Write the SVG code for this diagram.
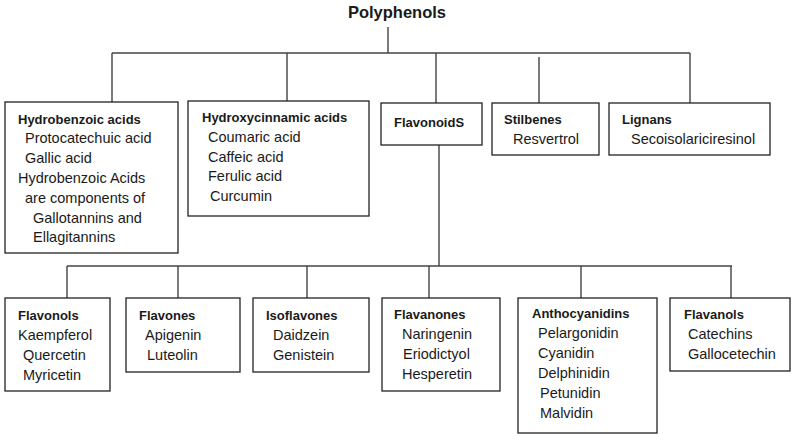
<svg xmlns="http://www.w3.org/2000/svg" width="794" height="436" viewBox="0 0 794 436">
<style>
text{font-family:"Liberation Sans",Arial,sans-serif;fill:#1a1a1a}
.t{font-size:16.5px;font-weight:bold}
.h{font-size:13px;font-weight:bold}
.r{font-size:14.5px}
.box{fill:#fff;stroke:#222;stroke-width:1.3}
.ln{fill:none;stroke:#444;stroke-width:1.4}
</style>
<rect width="794" height="436" fill="#fff"/>
<g id="connectors" class="ln">
<path d="M388 27V53M112 53H690M112 53V102M287 53V101M436 53V103M539 57V103M690 53V103"/>
<path d="M439 145V266M67 266H732M67 266V298M178 266V298M307 266V298M429 266V298M581 266V298M731 266V298"/>
</g>
<g id="title"><text class="t" x="397" y="18" text-anchor="middle">Polyphenols</text></g>
<g id="hydrobenzoic">
<rect class="box" x="5" y="102" width="173" height="151"/>
<text class="h" x="18" y="124">Hydrobenzoic acids</text>
<text class="r" x="25" y="143">Protocatechuic acid</text>
<text class="r" x="25" y="163">Gallic acid</text>
<text class="r" x="18" y="183">Hydrobenzoic Acids</text>
<text class="r" x="25" y="203">are components of</text>
<text class="r" x="33" y="223">Gallotannins and</text>
<text class="r" x="33" y="242">Ellagitannins</text>
</g>
<g id="hydroxycinnamic">
<rect class="box" x="188" y="101" width="181" height="115"/>
<text class="h" x="202" y="122">Hydroxycinnamic acids</text>
<text class="r" x="208" y="142">Coumaric acid</text>
<text class="r" x="208" y="162">Caffeic acid</text>
<text class="r" x="208" y="181">Ferulic acid</text>
<text class="r" x="210" y="201">Curcumin</text>
</g>
<g id="flavonoids">
<rect class="box" x="381" y="103" width="101" height="42"/>
<text class="h" x="394" y="127">FlavonoidS</text>
</g>
<g id="stilbenes">
<rect class="box" x="492" y="103" width="107" height="52"/>
<text class="h" x="504" y="124">Stilbenes</text>
<text class="r" x="513" y="144">Resvertrol</text>
</g>
<g id="lignans">
<rect class="box" x="609" y="103" width="161" height="52"/>
<text class="h" x="622" y="124">Lignans</text>
<text class="r" x="631" y="144">Secoisolariciresinol</text>
</g>
<g id="flavonols">
<rect class="box" x="5" y="298" width="105" height="93"/>
<text class="h" x="18" y="320">Flavonols</text>
<text class="r" x="18" y="340">Kaempferol</text>
<text class="r" x="23" y="360">Quercetin</text>
<text class="r" x="23" y="380">Myricetin</text>
</g>
<g id="flavones">
<rect class="box" x="126" y="298" width="114" height="74"/>
<text class="h" x="139" y="320">Flavones</text>
<text class="r" x="145" y="340">Apigenin</text>
<text class="r" x="147" y="360">Luteolin</text>
</g>
<g id="isoflavones">
<rect class="box" x="253" y="298" width="116" height="74"/>
<text class="h" x="266" y="320">Isoflavones</text>
<text class="r" x="273" y="340">Daidzein</text>
<text class="r" x="273" y="360">Genistein</text>
</g>
<g id="flavanones">
<rect class="box" x="382" y="298" width="118" height="93"/>
<text class="h" x="394" y="319">Flavanones</text>
<text class="r" x="402" y="339">Naringenin</text>
<text class="r" x="403" y="359">Eriodictyol</text>
<text class="r" x="402" y="379">Hesperetin</text>
</g>
<g id="anthocyanidins">
<rect class="box" x="518" y="298" width="139" height="135"/>
<text class="h" x="532" y="318">Anthocyanidins</text>
<text class="r" x="538" y="338">Pelargonidin</text>
<text class="r" x="538" y="358">Cyanidin</text>
<text class="r" x="538" y="378">Delphinidin</text>
<text class="r" x="540" y="398">Petunidin</text>
<text class="r" x="540" y="418">Malvidin</text>
</g>
<g id="flavanols">
<rect class="box" x="670" y="298" width="120" height="73"/>
<text class="h" x="684" y="319">Flavanols</text>
<text class="r" x="688" y="339">Catechins</text>
<text class="r" x="688" y="359">Gallocetechin</text>
</g>
</svg>
